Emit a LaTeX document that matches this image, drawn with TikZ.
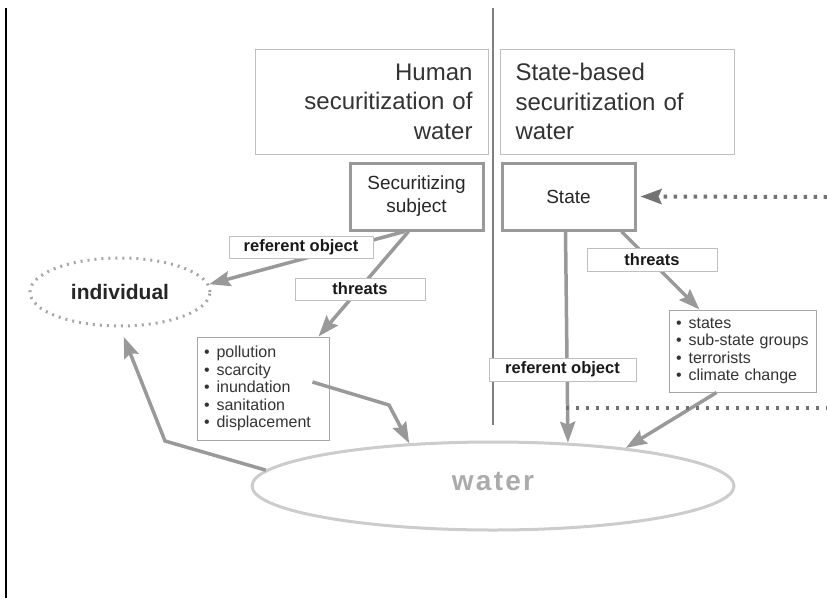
\documentclass[tikz,border=0pt]{standalone}
\usepackage{fontspec}
\setmainfont{Liberation Sans}
\usetikzlibrary{arrows.meta, positioning, shapes.geometric}

\begin{document}
\begin{tikzpicture}[x=1pt, y=-1pt, >=Stealth, font=\fontsize{15}{18}\selectfont]
  % Styles
  \tikzset{
    title/.style={draw=black!25, line width=1pt, text=black!80, minimum height=105pt, inner xsep=15.5pt, font=\fontsize{24}{29.5}\selectfont},
    actor/.style={draw=black!40, line width=3pt, text=black!85, minimum width=133pt, minimum height=67pt, align=center, font=\fontsize{19}{23}\selectfont},
    tag/.style={draw=black!25, line width=1pt, fill=white, minimum height=22pt, inner sep=0pt, text=black!90, font=\bfseries\fontsize{16.5}{18}\selectfont},
    list/.style={draw=black!35, line width=1pt, fill=white, align=left, inner xsep=7pt, text=black!80, font=\fontsize{16}{17.6}\selectfont},
    blob/.style={ellipse, inner sep=0pt},
    tip/.style={-{Stealth[length=21pt,width=15pt,inset=3pt]}},
    arrow/.style={tip, line width=3.5pt, draw=black!40},
    dots/.style={line width=4pt, draw=black!55, dash pattern=on 3.5pt off 6.5pt}
  }
  \useasboundingbox (0,0) rectangle (827,600);

  % Dividers
  \coordinate (topL) at (6,8);
  \coordinate (botL) at (6,598);
  \coordinate (topM) at (493,8);
  \coordinate (botM) at (493,425);
  \draw[line width=2.5pt] (topL) -- (botL);
  \draw[line width=2.5pt, black!50] (topM) -- (botM);

  % Nodes
  \node[title, text width=202pt, align=right] (hum) at (371.5,101.5) {Human\\ securitization of\\ water};
  \node[title, text width=203pt, align=left] (sta) at (617,101.5) {State-based\\ securitization of\\ water};

  \node[actor] (subj) at (416.5,196.5) {Securitizing\\ subject};
  \node[actor] (state) at (568.5,196.5) {State};

  \node[blob, draw=black!35, line width=3pt, dash pattern=on 2pt off 5pt, minimum width=180pt, minimum height=68pt,
        text=black!85, font=\bfseries\fontsize{21}{25}\selectfont] (ind) at (120,292) {individual};
  \node[blob, draw=black!20, line width=3pt, minimum width=482pt, minimum height=88pt] (wat) at (493,486) {};
  \node[text=black!33, font=\bfseries\fontsize{28}{32}\selectfont\addfontfeature{LetterSpace=8}] (watl) at (493,481) {water};

  \node[list, text width=118pt, minimum height=103pt] (thr1) at (263,388.5)
    {\textbullet\hspace{7pt}pollution\\ \textbullet\hspace{7pt}scarcity\\ \textbullet\hspace{7pt}inundation\\
     \textbullet\hspace{7pt}sanitation\\ \textbullet\hspace{7pt}displacement\\[-4pt]};
  \node[list, text width=133pt, minimum height=82pt] (thr2) at (742.5,351)
    {\textbullet\hspace{7pt}states\\ \textbullet\hspace{7pt}sub-state groups\\ \textbullet\hspace{7pt}terrorists\\
     \textbullet\hspace{7pt}climate change};

  \coordinate (inu) at ([xshift=-17pt,yshift=6.5pt]thr1.east);
  \coordinate (bendR) at (389,405);
  \coordinate (bendL) at (165,441);
  \coordinate (rin) at (827,197);
  \coordinate (rout) at (827,408);

  % Arrows
  \draw[arrow] ([xshift=-12pt]subj.south) -- (ind.5);
  \draw[arrow] ([xshift=-8pt]subj.south) -- ([xshift=-11pt]thr1.north east);
  \draw[arrow] (inu) -- (bendR) -- (wat.153);
  \draw[arrow, shorten >=10pt] (wat.176) -- (bendL) -- (ind.south);
  \draw[arrow] ([xshift=-3pt]state.south) -- (wat.30);
  \draw[arrow] ([xshift=-15pt]state.south east) -- ([xshift=31pt]thr2.north west);
  \draw[arrow] ([xshift=-26pt]thr2.south) -- (wat.16);
  \draw[dots, tip, shorten >=4pt] (rin) -- (state.east);
  \draw[dots] ([xshift=-3pt]state.south |- rout) -- (rout);

  % Labels
  \node[tag, minimum width=144pt] (ro1) at (301,247) {referent object};
  \node[tag, minimum width=130pt] (th1) at (360,289) {threats};
  \node[tag, minimum width=130pt, minimum height=23pt] (th2) at (652,259.5) {threats};
  \node[tag, minimum width=147pt, minimum height=23pt] (ro2) at (562.5,369.5) {referent object};

\end{tikzpicture}
\end{document}
